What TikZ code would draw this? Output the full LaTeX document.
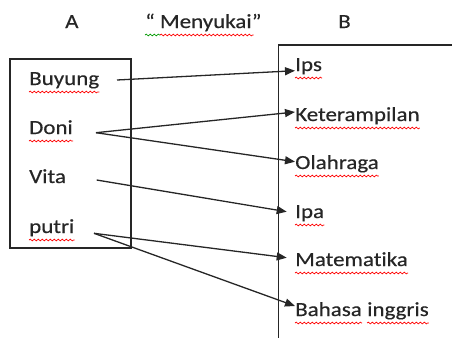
\documentclass[tikz,border=0pt]{standalone}
\usepackage{fontspec}
\setmainfont{Carlito}[FakeStretch=1.15,FakeBold=0.4,Ligatures=NoCommon]
\usetikzlibrary{arrows.meta,decorations.pathmorphing}
\begin{document}
\begin{tikzpicture}[x=1pt,y=-1pt,
  label/.style={anchor=base west,inner sep=0pt,font=\fontsize{20}{24}\selectfont,text=black!85},
  frame/.style={draw=black!85,line width=1.3pt},
  link/.style={draw=black!85,line width=1.3pt,-{Triangle[length=10pt,width=8pt]}},
  squig/.style={draw=#1,line width=0.7pt,decorate,
    decoration={snake,segment length=4pt,amplitude=0.9pt}},
  squig/.default=red]
\useasboundingbox (0,0) rectangle (452,338);

% column headings
\node[label] (hA) at (65,28) {A};
\node[label] (hverb) at (145,28) {“ Menyukai”};
\node[label] (hB) at (338,28) {B};

% set A and set B frames
\draw[frame] (10,59) rectangle (131,248);
\draw[frame] (452,45) -- (278.3,45) -- (278.3,338);

% members of A
\node[label] (buyung) at (29,85) {Buyung};
\node[label] (doni)   at (29,134) {Doni};
\node[label] (vita)   at (29,183) {Vita};
\node[label] (putri)  at (29,233) {putri};

% members of B
\node[label] (ips)   at (295,71) {Ips};
\node[label] (ket)   at (295,121) {Keterampilan};
\node[label] (olah)  at (295,169) {Olahraga};
\node[label] (ipa)   at (295,218) {Ipa};
\node[label] (mat)   at (295,266) {Matematika};
\node[label] (bahasa) at (295,316) {Bahasa};
\node[label] (inggris) at ([xshift=5pt]bahasa.base east) {inggris};

% arrow ends
\coordinate (buyung-o) at (117,80);
\coordinate (doni-o)   at (96,132.7);
\coordinate (vita-o)   at (96.7,180);
\coordinate (putri-o)  at (94,233.3);
\coordinate (ips-i)    at (295,70.7);
\coordinate (ket-i)    at (295,112);
\coordinate (olah-i)   at (295,161.7);
\coordinate (ipa-i)    at (286.7,211.7);
\coordinate (mat-i)    at (286.7,257.7);
\coordinate (bahasa-i) at (295,306);

% relation "menyukai"
\draw[link] (buyung-o) -- (ips-i);
\draw[link] (doni-o) -- (ket-i);
\draw[link] (doni-o) -- (olah-i);
\draw[link] (vita-o) -- (ipa-i);
\draw[link] (putri-o) -- (mat-i);
\draw[link] (putri-o) -- (bahasa-i);

% spelling underlines
\foreach \w in {buyung,doni,putri,ips,ket,olah,ipa,mat,bahasa,inggris}{
  \draw[squig] ([yshift=-7pt]\w.base west) -- ([yshift=-7pt]\w.base east);
}
\draw[squig=green!60!black] ([yshift=-7pt]hverb.base west) -- ++(15,0);
\draw[squig] ([yshift=-7pt,xshift=15pt]hverb.base west) -- ([yshift=-7pt,xshift=-8pt]hverb.base east);
\end{tikzpicture}
\end{document}
